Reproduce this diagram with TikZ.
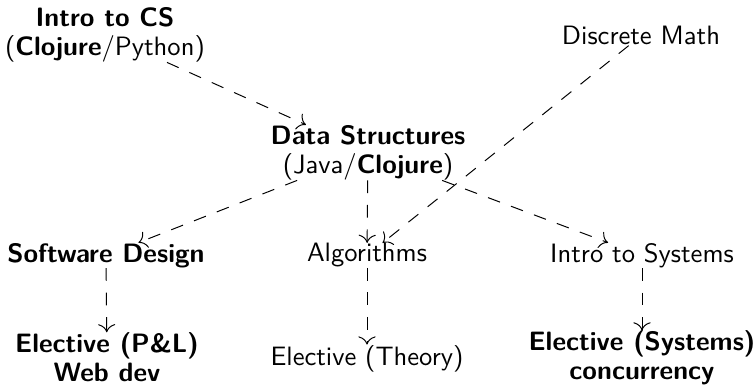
\documentclass[tikz,border=0pt]{standalone}
\usetikzlibrary{arrows.meta}
\begin{document}
\begin{tikzpicture}[x=0.40816pt,y=0.40816pt,
  lbl/.style={inner sep=0pt, align=center, font=\sffamily\fontsize{10.85}{11.84}\selectfont},
  dep/.style={draw, line width=0.4pt, dash pattern=on 5.2pt off 4.8pt, -{To[scale=1.35]}}]
\useasboundingbox (0,0) rectangle (755,385);
\node[lbl] (intro) at (105,350.4) {\textbf{Intro to CS}\\(\textbf{Clojure}/Python)};
\node[lbl] (dm) at (641,349.2) {Discrete Math};
\node[lbl] (ds) at (368,232.4) {\textbf{Data Structures}\\(Java/\textbf{Clojure})};
\node[lbl] (sd) at (106,129.6) {\textbf{Software Design}};
\node[lbl] (alg) at (367,129.6) {Algorithms};
\node[lbl] (sys) at (642,129.6) {Intro to Systems};
\node[lbl] (pl) at (107,27.5) {\textbf{Elective (P\&L)}\\\textbf{Web dev}};
\node[lbl] (th) at (367,26.6) {Elective (Theory)};
\node[lbl] (es) at (642,26.8) {\textbf{Elective (Systems)}\\\textbf{concurrency}};
\draw[dep] (intro) -- (ds);
\draw[dep] (ds) -- (sd);
\draw[dep] (ds) -- (alg);
\draw[dep] (ds) -- (sys);
\draw[dep] (dm) -- (alg);
\draw[dep] (sd) -- (pl);
\draw[dep] (alg) -- (th);
\draw[dep] (sys) -- (es);
\end{tikzpicture}
\end{document}
